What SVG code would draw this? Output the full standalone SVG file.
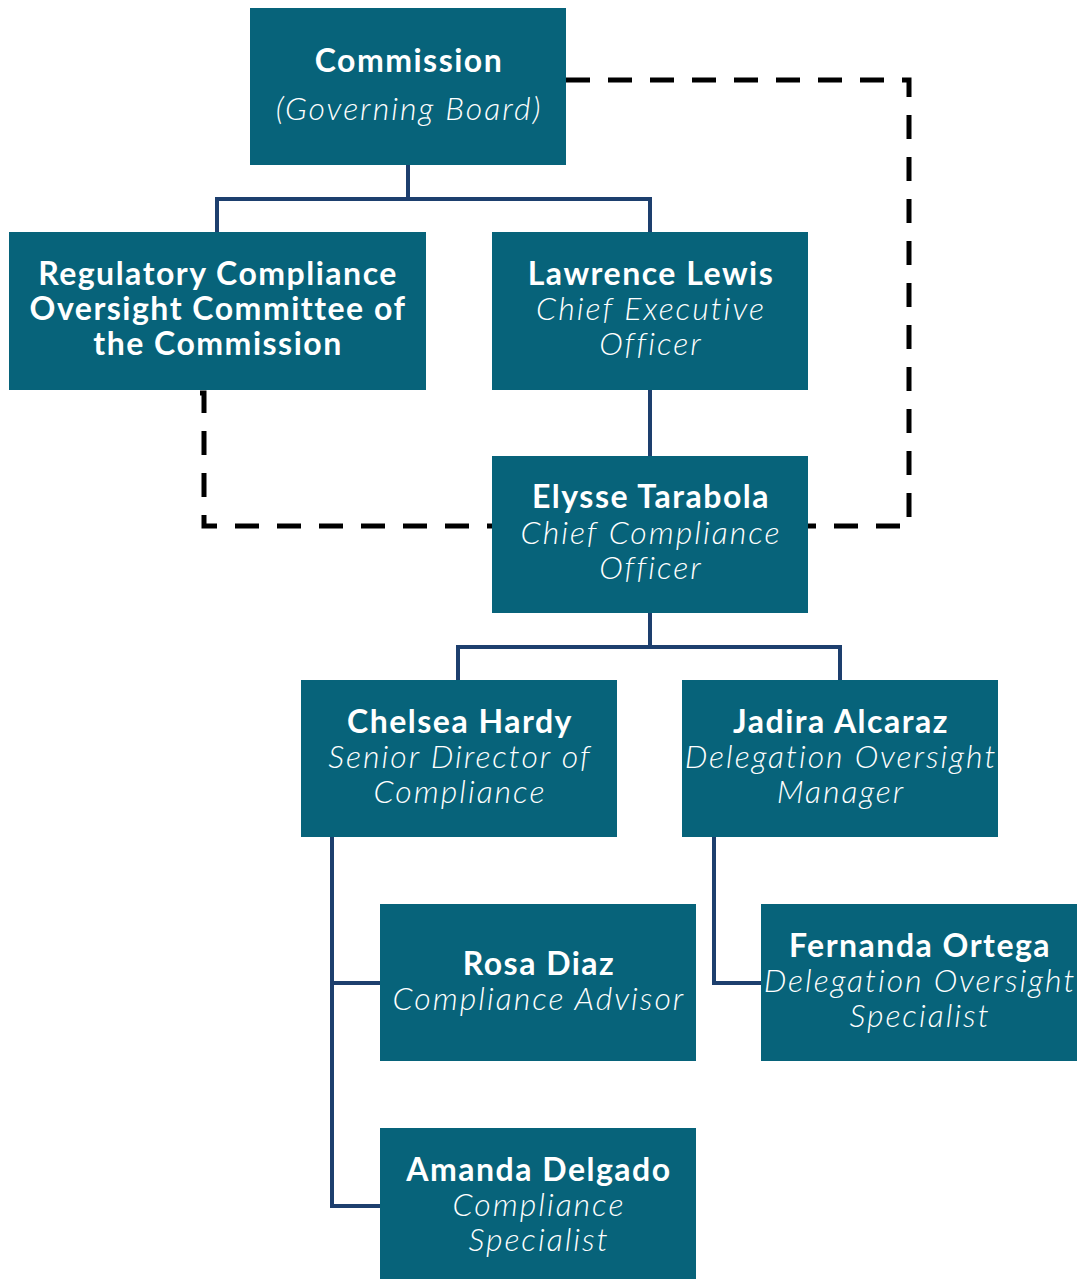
<svg xmlns="http://www.w3.org/2000/svg" width="1080" height="1279" viewBox="0 0 1080 1279">
<style>
.box{fill:#07637a}
.n{font-family:Lato,"Liberation Sans",sans-serif;font-weight:700;font-size:32px;letter-spacing:1.5px;fill:#fff;text-anchor:middle}
.t{font-family:Lato,"Liberation Sans",sans-serif;font-weight:300;font-style:italic;font-size:32px;letter-spacing:2px;fill:#fff;text-anchor:middle}
.solid{fill:none;stroke:#1d3f6e;stroke-width:4}
.dash{fill:none;stroke:#000;stroke-width:5;stroke-dasharray:24 18}
</style>
<rect width="1080" height="1279" fill="#fff"/>
<g id="connectors">
<path class="solid" d="M408 165V199M217 232V199H650V232"/>
<path class="solid" d="M650 390V456"/>
<path class="solid" d="M650 613V647M458 680V647H840V680"/>
<path class="solid" d="M332 837V1206H380M332 983H380"/>
<path class="solid" d="M714 837V983H761"/>
<path class="dash" d="M566 80H909V526H808"/>
<path class="dash" d="M200 393H204V526H492"/>
</g>
<g id="commission">
<rect class="box" x="250" y="8" width="316" height="157"/>
<text class="n" x="409" y="72">Commission</text>
<text class="t" x="409" y="120">(Governing Board)</text>
</g>
<g id="rcoc">
<rect class="box" x="9" y="232" width="417" height="158"/>
<text class="n" x="218" y="285">Regulatory Compliance</text>
<text class="n" x="218" y="320">Oversight Committee of</text>
<text class="n" x="218" y="355">the Commission</text>
</g>
<g id="lawrence">
<rect class="box" x="492" y="232" width="316" height="158"/>
<text class="n" x="651" y="285">Lawrence Lewis</text>
<text class="t" x="651" y="320">Chief Executive</text>
<text class="t" x="651" y="355">Officer</text>
</g>
<g id="elysse">
<rect class="box" x="492" y="456" width="316" height="157"/>
<text class="n" x="651" y="508">Elysse Tarabola</text>
<text class="t" x="651" y="544">Chief Compliance</text>
<text class="t" x="651" y="579">Officer</text>
</g>
<g id="chelsea">
<rect class="box" x="301" y="680" width="316" height="157"/>
<text class="n" x="460" y="733">Chelsea Hardy</text>
<text class="t" x="460" y="768">Senior Director of</text>
<text class="t" x="460" y="803">Compliance</text>
</g>
<g id="jadira">
<rect class="box" x="682" y="680" width="316" height="157"/>
<text class="n" x="841" y="733">Jadira Alcaraz</text>
<text class="t" x="841" y="768">Delegation Oversight</text>
<text class="t" x="841" y="803">Manager</text>
</g>
<g id="rosa">
<rect class="box" x="380" y="904" width="316" height="157"/>
<text class="n" x="539" y="975">Rosa Diaz</text>
<text class="t" x="539" y="1010">Compliance Advisor</text>
</g>
<g id="fernanda">
<rect class="box" x="761" y="904" width="316" height="157"/>
<text class="n" x="920" y="957">Fernanda Ortega</text>
<text class="t" x="920" y="992">Delegation Oversight</text>
<text class="t" x="920" y="1027">Specialist</text>
</g>
<g id="amanda">
<rect class="box" x="380" y="1128" width="316" height="151"/>
<text class="n" x="539" y="1181">Amanda Delgado</text>
<text class="t" x="539" y="1216">Compliance</text>
<text class="t" x="539" y="1251">Specialist</text>
</g>
</svg>
